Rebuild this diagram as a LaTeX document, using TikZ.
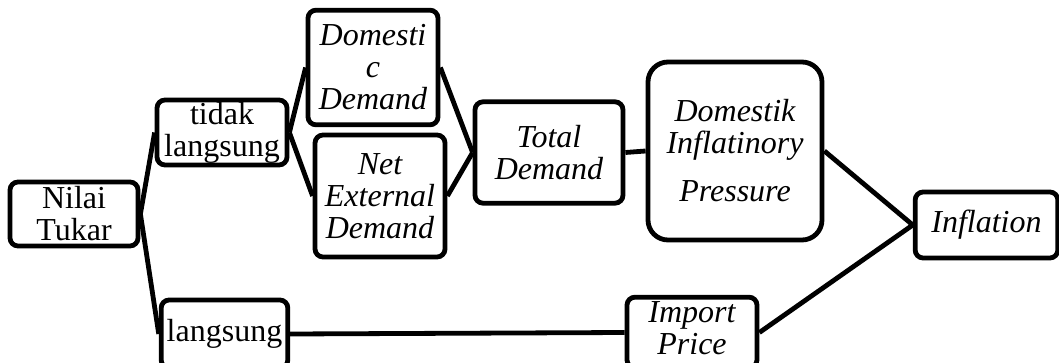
\documentclass[tikz,border=0pt]{standalone}
\usepackage{fontspec}
\setmainfont{Liberation Serif}
\usetikzlibrary{positioning}
\definecolor{ink}{HTML}{000000}

\begin{document}
\begin{tikzpicture}[x=0.75pt, y=-0.75pt,
    kotak/.style={draw=ink, line width=3.6pt, rounded corners=6pt, inner sep=0pt,
      align=center, font=\fontsize{24}{24}\selectfont, text=ink},
    miring/.style={kotak, font=\fontsize{24}{24}\selectfont\itshape},
    garis/.style={draw=ink, line width=3.6pt}]
    \useasboundingbox (0, 0) rectangle (1059, 363);

    \node[kotak, minimum width=96pt,  minimum height=48pt]  (nilai)  at (74,  214)   {Nilai\\Tukar};
    \node[kotak, minimum width=97.5pt, minimum height=48.75pt] (tidak) at (222, 132.5) {tidak\\langsung};
    \node[kotak, minimum width=95pt,  minimum height=51pt]  (langsung) at (224.5, 334) {langsung};

    \node[miring, minimum width=97.5pt, minimum height=86pt] (domestic) at (373, 67.5) {Domesti\\c\\Demand};
    \node[miring, minimum width=97.5pt, minimum height=91.5pt] (net) at (380, 196) {Net\\External\\Demand};
    \node[miring, minimum width=111pt, minimum height=76pt] (total) at (549, 152.5) {Total\\Demand};
    \node[miring, minimum width=130.5pt, minimum height=133.5pt, rounded corners=15pt] (dip) at (735, 151) {Domestik\\Inflatinory\\[12pt]Pressure};
    \node[miring, minimum width=107pt, minimum height=49.5pt] (inflation) at (986.5, 225) {Inflation};
    \node[miring, minimum width=97.5pt, minimum height=53pt, text depth=7pt] (import) at (692, 332.5) {Import\\Price};

    \draw[garis] (nilai.east) -- (tidak.west);
    \draw[garis] (nilai.east) -- (langsung.west);
    \draw[garis] (tidak.east) -- (domestic.west);
    \draw[garis] (tidak.east) -- (net.west);
    \draw[garis] (domestic.east) -- (total.west);
    \draw[garis] (net.east) -- (total.west);
    \draw[garis] (total.east) -- (dip.west);
    \draw[garis] (dip.east) -- (inflation.west);
    \draw[garis] (langsung.east) -- (import.west);
    \draw[garis] (import.east) -- (inflation.west);
  \end{tikzpicture}
\end{document}
